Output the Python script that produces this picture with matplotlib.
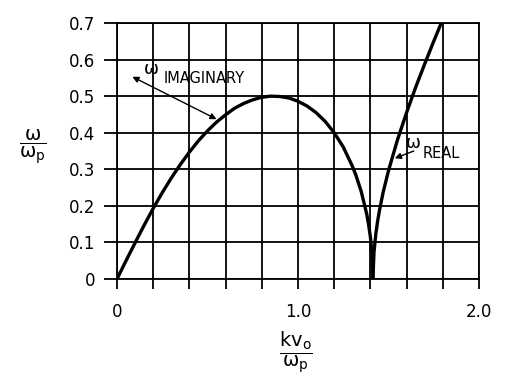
import matplotlib.pyplot as plt
import numpy as np

# values (omega/omega_p vs k v0/omega_p)
kv_imag = [0.0, 0.05, 0.1, 0.15, 0.2, 0.25, 0.3, 0.35, 0.4, 0.45, 0.5, 0.55,
           0.6, 0.65, 0.7, 0.75, 0.8, 0.85, 0.9, 0.95, 1.0, 1.05, 1.1, 1.15,
           1.2, 1.25, 1.3, 1.32, 1.35, 1.38, 1.39, 1.40, 1.41, 1.414]
w_imag = [0.0, 0.050, 0.099, 0.147, 0.193, 0.236, 0.276, 0.313, 0.347, 0.378,
          0.405, 0.429, 0.449, 0.467, 0.480, 0.490, 0.497, 0.500, 0.499, 0.495,
          0.486, 0.473, 0.455, 0.431, 0.400, 0.361, 0.309, 0.284, 0.238, 0.177,
          0.149, 0.115, 0.063, 0.0]

kv_real = [1.414, 1.42, 1.43, 1.44, 1.45, 1.47, 1.5, 1.55, 1.6, 1.65, 1.7,
           1.75, 1.79]
w_real = [0.0, 0.074, 0.123, 0.158, 0.187, 0.236, 0.296, 0.381, 0.455, 0.524,
          0.588, 0.650, 0.698]

x_ticks = [0.0, 0.2, 0.4, 0.6, 0.8, 1.0, 1.2, 1.4, 1.6, 1.8, 2.0]
x_labels = ['0', '', '', '', '', '1.0', '', '', '', '', '2.0']
y_ticks = [0.0, 0.1, 0.2, 0.3, 0.4, 0.5, 0.6, 0.7]
y_labels = ['0', '0.1', '0.2', '0.3', '0.4', '0.5', '0.6', '0.7']

plt.rcParams['mathtext.fontset'] = 'dejavusans'

fig = plt.figure(figsize=(5.12, 3.79), dpi=100)
ax = fig.add_axes([0.2285, 0.2639, 0.707, 0.6754])

lw_grid = 1.3
ax.plot(kv_imag, w_imag, color='black', lw=2.4, solid_capstyle='butt', zorder=3)
ax.plot(kv_real, w_real, color='black', lw=2.4, solid_capstyle='butt', zorder=3)

ax.set_xlim(0, 2.0)
ax.set_ylim(0, 0.7)
ax.set_xticks(x_ticks)
ax.set_xticklabels(x_labels)
ax.set_yticks(y_ticks)
ax.set_yticklabels(y_labels)
ax.grid(True, color='black', lw=lw_grid)
for s in ax.spines.values():
    s.set_linewidth(lw_grid)
ax.tick_params(axis='x', length=7, width=lw_grid, pad=10, labelsize=12)
ax.tick_params(axis='y', length=9.5, width=lw_grid, pad=6, labelsize=12)

# annotations
ax.annotate('', xy=(0.55, 0.437), xytext=(0.085, 0.553),
            arrowprops=dict(arrowstyle='<|-|>', color='black', lw=1.0,
                            mutation_scale=9, shrinkA=0, shrinkB=0))
ax.text(0.15, 0.55, 'ω', fontsize=13, ha='left', va='bottom')
ax.text(0.255, 0.547, 'IMAGINARY', fontsize=10.5, ha='left', va='center')

ax.annotate('', xy=(1.535, 0.33), xytext=(1.64, 0.35),
            arrowprops=dict(arrowstyle='-|>', color='black', lw=1.0,
                            mutation_scale=9, shrinkA=0, shrinkB=0))
ax.text(1.595, 0.346, 'ω', fontsize=13, ha='left', va='bottom')
ax.text(1.69, 0.344, 'REAL', fontsize=10.5, ha='left', va='center')

fig.text(33 / 512, 1 - 147 / 379, r'$\dfrac{\mathrm{ω}}{\mathrm{ω_p}}$', fontsize=14,
         ha='center', va='center')
fig.text(296 / 512, 1 - 352 / 379, r'$\dfrac{\mathrm{kv_o}}{\mathrm{ω_p}}$', fontsize=14,
         ha='center', va='center')

fig.savefig('out.png', dpi=100)
